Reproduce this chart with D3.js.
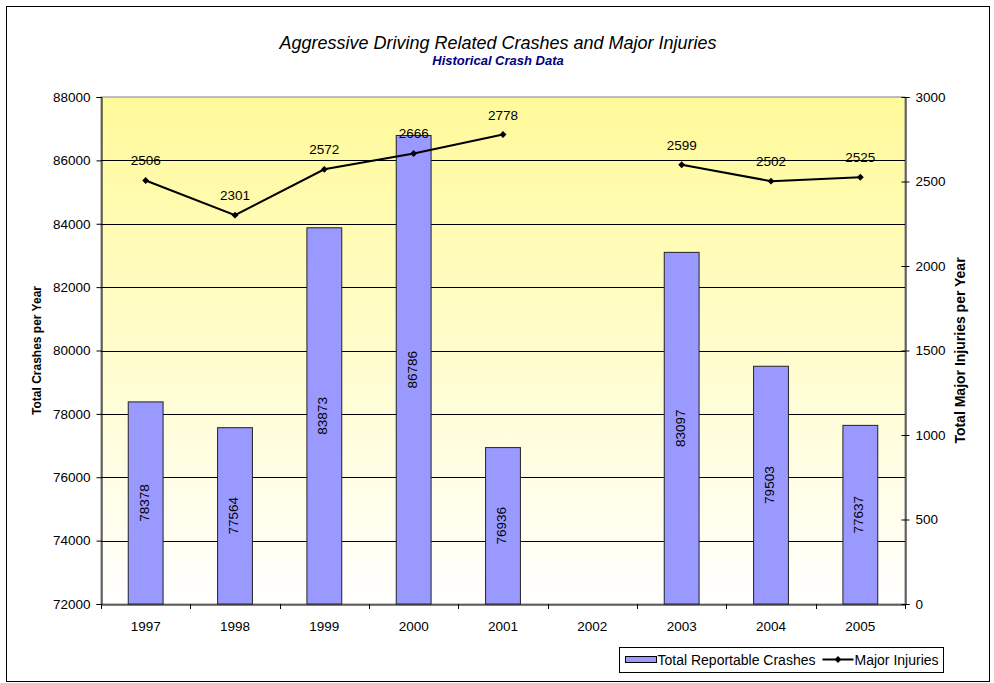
<!DOCTYPE html>
<html>
<head>
<meta charset="utf-8">
<script src="https://cdn.jsdelivr.net/npm/d3@7"></script>
<style>
    body { margin: 0; background: #fff; }
    svg text { font-family: "Liberation Sans", Arial, sans-serif; }
</style>
</head>
<body>
<div id="wrapper"></div>
<script>
// chart values
const years = ["1997", "1998", "1999", "2000", "2001", "2002", "2003", "2004", "2005"];
const crashes = [78378, 77564, 83873, 86786, 76936, null, 83097, 79503, 77637];
const injuries = [2506, 2301, 2572, 2666, 2778, null, 2599, 2502, 2525];
const leftTicks = [72000, 74000, 76000, 78000, 80000, 82000, 84000, 86000, 88000];
const rightTicks = [0, 500, 1000, 1500, 2000, 2500, 3000];

let wSvg = 994;
let hSvg = 683;
let plot = { left: 101, right: 905, top: 97, bottom: 604 };
let fs = 13.5;

let svg = d3.select("#wrapper")
    .append("svg")
    .attr("width", wSvg)
    .attr("height", hSvg);

// gradient for the plot area
let grad = svg.append("defs").append("linearGradient")
    .attr("id", "bg")
    .attr("x1", 0).attr("y1", 0).attr("x2", 0).attr("y2", 1);
grad.append("stop").attr("offset", "0%").attr("stop-color", "#fffa99");
grad.append("stop").attr("offset", "100%").attr("stop-color", "#ffffff");

// outer frame
svg.append("rect")
    .attr("x", 6.5).attr("y", 6.5)
    .attr("width", 983).attr("height", 675)
    .attr("fill", "#fff")
    .attr("stroke", "#000")
    .attr("stroke-width", 1);

let xScale = d3.scaleBand()
    .domain(years)
    .range([plot.left, plot.right])
    .paddingInner(0.61)
    .paddingOuter(0.305);

let yLeft = d3.scaleLinear()
    .domain([72000, 88000])
    .range([plot.bottom, plot.top]);

let yRight = d3.scaleLinear()
    .domain([0, 3000])
    .range([plot.bottom, plot.top]);

svg.append("rect")
    .attr("x", plot.left).attr("y", plot.top)
    .attr("width", plot.right - plot.left)
    .attr("height", plot.bottom - plot.top)
    .attr("fill", "url(#bg)")
    .attr("stroke", "#808080");

// gridlines
svg.append("g")
    .selectAll("line")
    .data(leftTicks.slice(1, -1))
    .enter()
    .append("line")
    .attr("x1", plot.left).attr("x2", plot.right)
    .attr("y1", d => Math.round(yLeft(d)) + 0.5)
    .attr("y2", d => Math.round(yLeft(d)) + 0.5)
    .attr("stroke", "#000")
    .attr("stroke-width", 1);

// bars
let bars = svg.append("g")
    .selectAll("g")
    .data(years.map((y, i) => ({ year: y, value: crashes[i] })).filter(d => d.value !== null))
    .enter()
    .append("g");

bars.append("rect")
    .attr("x", d => xScale(d.year))
    .attr("y", d => yLeft(d.value))
    .attr("width", xScale.bandwidth())
    .attr("height", d => plot.bottom - yLeft(d.value))
    .attr("fill", "#9999ff")
    .attr("stroke", "#222")
    .attr("stroke-width", 1);

bars.append("text")
    .attr("transform", d => `translate(${xScale(d.year) + xScale.bandwidth() / 2 + 3},${(yLeft(d.value) + plot.bottom) / 2}) rotate(-90)`)
    .attr("text-anchor", "middle")
    .attr("font-size", fs)
    .attr("fill", "#000")
    .text(d => d.value);

// axes
let leftAxis = d3.axisLeft(yLeft).tickValues(leftTicks).tickSize(5).tickPadding(6).tickFormat(d3.format("d"));
let gLeft = svg.append("g").attr("transform", `translate(${plot.left + 0.5},0)`).call(leftAxis);

let rightAxis = d3.axisRight(yRight).tickValues(rightTicks).tickSize(4).tickPadding(6).tickFormat(d3.format("d"));
let gRight = svg.append("g").attr("transform", `translate(${plot.right + 0.5},0)`).call(rightAxis);
gRight.selectAll(".tick line").attr("x1", -4);

let bottomAxis = d3.axisBottom(xScale).tickSize(0).tickPadding(17);
let gBottom = svg.append("g").attr("transform", `translate(0,${plot.bottom + 0.5})`).call(bottomAxis);

// ticks between categories on the x axis
svg.append("g")
    .selectAll("line")
    .data(d3.range(years.length + 1))
    .enter()
    .append("line")
    .attr("x1", i => Math.round(plot.left + i * (plot.right - plot.left) / years.length) + 0.5)
    .attr("x2", i => Math.round(plot.left + i * (plot.right - plot.left) / years.length) + 0.5)
    .attr("y1", plot.bottom)
    .attr("y2", plot.bottom + 5)
    .attr("stroke", "#000");

[gLeft, gRight, gBottom].forEach(g => {
    g.select(".domain").attr("stroke", "#000");
    g.selectAll(".tick line").attr("stroke", "#000");
    g.selectAll("text")
        .attr("font-size", fs)
        .attr("fill", "#000")
        .style("font-family", "'Liberation Sans', Arial, sans-serif");
});

// line series
let lineData = years.map((y, i) => ({ year: y, value: injuries[i] }));
let line = d3.line()
    .defined(d => d.value !== null)
    .x(d => xScale(d.year) + xScale.bandwidth() / 2)
    .y(d => yRight(d.value));

svg.append("path")
    .datum(lineData)
    .attr("d", line)
    .attr("fill", "none")
    .attr("stroke", "#000")
    .attr("stroke-width", 2);

let pts = svg.append("g")
    .selectAll("g")
    .data(lineData.filter(d => d.value !== null))
    .enter()
    .append("g")
    .attr("transform", d => `translate(${xScale(d.year) + xScale.bandwidth() / 2},${yRight(d.value)})`);

pts.append("path")
    .attr("d", d3.symbol(d3.symbolDiamond2, 30))
    .attr("fill", "#000");

pts.append("text")
    .attr("y", -15)
    .attr("text-anchor", "middle")
    .attr("font-size", fs)
    .attr("fill", "#000")
    .text(d => d.value);

// titles
svg.append("text")
    .attr("x", 498).attr("y", 49)
    .attr("text-anchor", "middle")
    .attr("font-size", 18)
    .attr("font-style", "italic")
    .attr("fill", "#000")
    .text("Aggressive Driving Related Crashes and Major Injuries");

svg.append("text")
    .attr("x", 498).attr("y", 65)
    .attr("text-anchor", "middle")
    .attr("font-size", 13)
    .attr("font-style", "italic")
    .attr("font-weight", "bold")
    .attr("fill", "#000080")
    .text("Historical Crash Data");

svg.append("text")
    .attr("transform", `translate(41,${(plot.top + plot.bottom) / 2}) rotate(-90)`)
    .attr("text-anchor", "middle")
    .attr("font-size", 12)
    .attr("font-weight", "bold")
    .attr("fill", "#000")
    .text("Total Crashes per Year");

svg.append("text")
    .attr("transform", `translate(965,${(plot.top + plot.bottom) / 2}) rotate(-90)`)
    .attr("text-anchor", "middle")
    .attr("font-size", 14)
    .attr("font-weight", "bold")
    .attr("fill", "#000")
    .text("Total Major Injuries per Year");

// legend
let legend = svg.append("g").attr("transform", "translate(619.5,647.5)");
legend.append("rect")
    .attr("width", 324).attr("height", 25)
    .attr("fill", "#fff").attr("stroke", "#000");
legend.append("rect")
    .attr("x", 6).attr("y", 9).attr("width", 31).attr("height", 6)
    .attr("fill", "#9999ff").attr("stroke", "#000");
legend.append("text")
    .attr("x", 38).attr("y", 17.5)
    .attr("font-size", 14).attr("fill", "#000")
    .text("Total Reportable Crashes");
legend.append("line")
    .attr("x1", 203).attr("x2", 234).attr("y1", 12).attr("y2", 12)
    .attr("stroke", "#000").attr("stroke-width", 2);
legend.append("path")
    .attr("transform", "translate(218.5,12)")
    .attr("d", d3.symbol(d3.symbolDiamond2, 30))
    .attr("fill", "#000");
legend.append("text")
    .attr("x", 235).attr("y", 17.5)
    .attr("font-size", 14).attr("fill", "#000")
    .text("Major Injuries");
</script>
</body>
</html>
